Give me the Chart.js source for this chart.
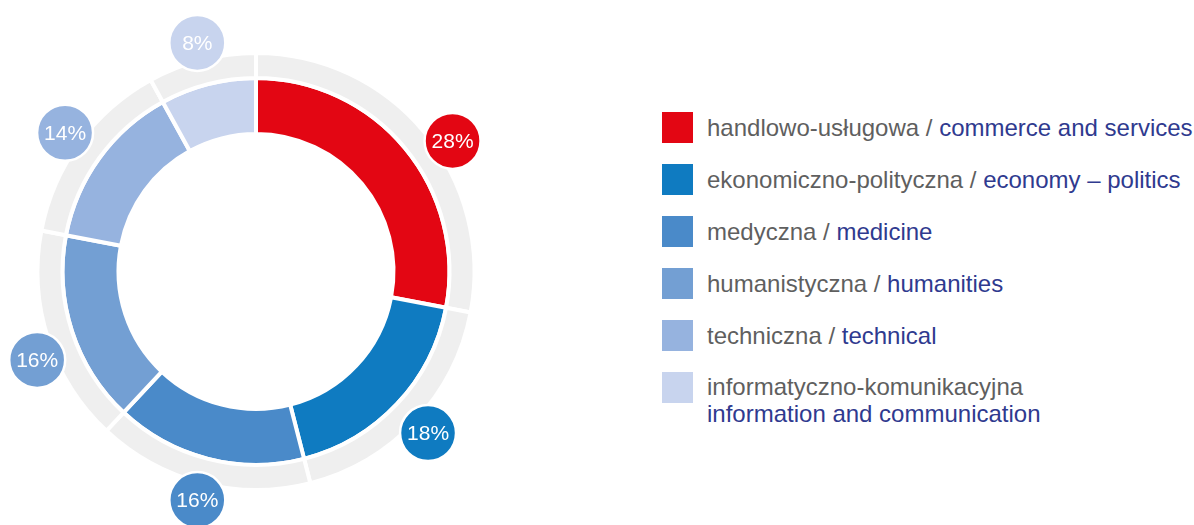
<!DOCTYPE html>
<html lang="pl">
<head>
    <meta charset="UTF-8">
    <title>Profile kształcenia</title>
    <style>
        body {
            margin: 0;
            padding: 0;
            background: #fff;
            font-family: "Liberation Sans", Arial, sans-serif;
        }
        .chart-box {
            position: absolute;
            left: 0;
            top: 0;
            width: 520px;
            height: 525px;
        }
        .legend {
            position: absolute;
            left: 662px;
            top: 112px;
        }
        .legend-row {
            display: flex;
            align-items: flex-start;
            height: 52px;
        }
        .legend-box {
            width: 31px;
            height: 31px;
            flex: none;
        }
        .legend-text {
            margin-left: 14px;
            font-size: 24px;
            line-height: 31px;
            color: #5f5f5f;
            white-space: nowrap;
        }
        .legend-text .en {
            color: #2f3a8f;
        }
    </style>
</head>
<body>
    <div class="chart-box">
        <canvas id="profileChart"></canvas>
    </div>
    <div class="legend" id="legend"></div>

    <script src="https://cdn.jsdelivr.net/npm/chart.js"></script>
    <script>
        // Categories (Polish / English) and shares in %
        const labelsPl = ['handlowo-usługowa', 'ekonomiczno-polityczna', 'medyczna', 'humanistyczna', 'techniczna', 'informatyczno-komunikacyjna'];
        const labelsEn = ['commerce and services', 'economy – politics', 'medicine', 'humanities', 'technical', 'information and communication'];
        const shares = [28, 18, 16, 16, 14, 8];
        const colors = ['#e30613', '#0f7bc1', '#4a8ac9', '#739fd3', '#96b3df', '#c8d4ee'];

        // bubbles with the percentage, drawn outside the rings
        const bubblePlugin = {
            id: 'bubbles',
            afterDatasetsDraw(chart, args, opts) {
                const meta = chart.getDatasetMeta(1);
                const ctx = chart.ctx;
                ctx.save();
                meta.data.forEach((arc, i) => {
                    const shift = (opts.shift[i] || 0) * Math.PI / 180;
                    const mid = (arc.startAngle + arc.endAngle) / 2 + shift;
                    const bx = arc.x + Math.cos(mid) * opts.distance;
                    const by = arc.y + Math.sin(mid) * opts.distance;
                    ctx.beginPath();
                    ctx.arc(bx, by, opts.size, 0, Math.PI * 2);
                    ctx.fillStyle = colors[i];
                    ctx.fill();
                    ctx.lineWidth = 2.5;
                    ctx.strokeStyle = '#fff';
                    ctx.stroke();
                    ctx.fillStyle = '#fff';
                    ctx.font = '21px "Liberation Sans", Arial, sans-serif';
                    ctx.textAlign = 'center';
                    ctx.textBaseline = 'middle';
                    ctx.fillText(shares[i] + '%', bx, by + 1);
                });
                ctx.restore();
            }
        };

        new Chart(document.getElementById('profileChart'), {
            type: 'doughnut',
            data: {
                labels: labelsPl,
                datasets: [{
                    // grey outer ring
                    data: shares,
                    backgroundColor: '#efefef',
                    borderColor: '#fff',
                    borderWidth: 4,
                    weight: 25
                }, {
                    data: shares,
                    backgroundColor: colors,
                    borderColor: '#fff',
                    borderWidth: 4,
                    weight: 56
                }]
            },
            options: {
                responsive: true,
                maintainAspectRatio: false,
                animation: false,
                radius: 218.5,
                cutout: '62.93%',
                layout: {
                    padding: { left: 0, right: 8, top: 18, bottom: 0 }
                },
                plugins: {
                    legend: { display: false },
                    tooltip: { enabled: false },
                    bubbles: {
                        distance: 236,
                        size: 28,
                        shift: [6, 0, 0, -4, 0, 0]
                    }
                }
            },
            plugins: [bubblePlugin]
        });

        // HTML legend built from the same arrays
        const legend = document.getElementById('legend');
        labelsPl.forEach((pl, i) => {
            const row = document.createElement('div');
            row.className = 'legend-row';
            const box = document.createElement('div');
            box.className = 'legend-box';
            box.style.background = colors[i];
            const text = document.createElement('div');
            text.className = 'legend-text';
            if (i === labelsPl.length - 1) {
                text.style.lineHeight = '27px';
                text.style.marginTop = '1px';
                text.innerHTML = pl + '<br><span class="en">' + labelsEn[i] + '</span>';
            } else {
                text.innerHTML = pl + ' / <span class="en">' + labelsEn[i] + '</span>';
            }
            row.appendChild(box);
            row.appendChild(text);
            legend.appendChild(row);
        });
    </script>
</body>
</html>
